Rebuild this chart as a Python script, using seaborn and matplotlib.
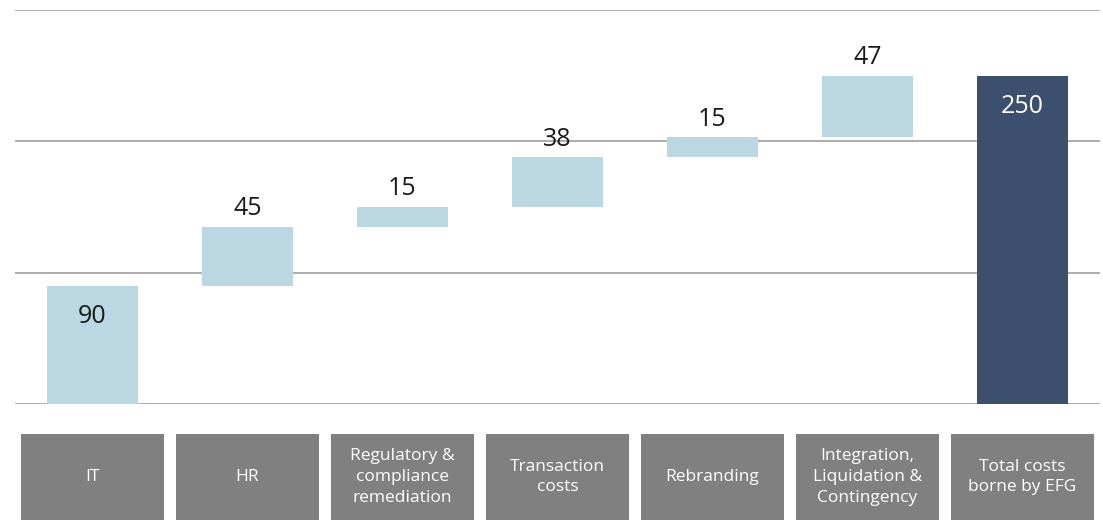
import numpy as np
import pandas as pd
import matplotlib
matplotlib.use("Agg")
import matplotlib.pyplot as plt
import seaborn as sns

CATEGORIES = ["IT", "HR", "Regulatory &\ncompliance\nremediation", "Transaction\ncosts",
              "Rebranding", "Integration,\nLiquidation &\nContingency", "Total costs\nborne by EFG"]
VALUES = [90, 45, 15, 38, 15, 47, 250]
IS_TOTAL = [False, False, False, False, False, False, True]

LIGHT = "#BBD8E2"
DARK = "#3C506E"
BOX = "#808080"
GRID = "#A6A6A6"

sns.set_theme(style="white")
plt.rcParams["font.family"] = ["Open Sans", "DejaVu Sans"]

# waterfall bases
bases = []
running = 0
for v, tot in zip(VALUES, IS_TOTAL):
    if tot:
        bases.append(0)
    else:
        bases.append(running)
        running += v
df = pd.DataFrame({"cat": CATEGORIES, "value": VALUES, "base": bases})
df["top"] = df["base"] + df["value"]

fig = plt.figure(figsize=(11.03, 5.2), dpi=100)
ax = fig.add_axes([15 / 1103, 1 - 404 / 520, 1085 / 1103, 394 / 520])
colors = [DARK if t else LIGHT for t in IS_TOTAL]
sns.barplot(data=df, x="cat", y="top", hue="cat", palette=colors, legend=False,
            width=0.59, saturation=1, linewidth=0, ax=ax, zorder=3)

# shift each bar to float on its base
for patch, b, v in zip(ax.patches, df["base"], df["value"]):
    patch.set_y(b)
    patch.set_height(v)

for i, (b, v, tot) in enumerate(zip(df["base"], df["value"], IS_TOTAL)):
    top = b + v
    if i == 0 or tot:
        ax.annotate(f"{v}", xy=(i, top), xytext=(0, -13), textcoords="offset points",
                    ha="center", va="top", fontsize=18,
                    color="white" if tot else "#1a1a1a", zorder=4)
    else:
        ax.annotate(f"{v}", xy=(i, top), xytext=(0, 4), textcoords="offset points",
                    ha="center", va="bottom", fontsize=18, color="#1a1a1a", zorder=4)

ax.set_xlim(-0.5, 6.5)
ax.set_ylim(0, 300)
ax.set_yticks([0, 100, 200, 300])
ax.yaxis.grid(True, color=GRID, linewidth=1.3)
ax.set_axisbelow(True)
ax.tick_params(left=False, bottom=False, labelleft=False, labelbottom=False)
ax.set_xlabel("")
ax.set_ylabel("")
sns.despine(ax=ax, left=True, bottom=True, top=True, right=True)

# category boxes beneath
bx = fig.add_axes([15 / 1103, 0, 1085 / 1103, 86 / 520])
xpos = np.arange(len(CATEGORIES))
bx.bar(xpos, [1] * len(CATEGORIES), width=0.925, color=BOX, linewidth=0)
for x, label in zip(xpos, CATEGORIES):
    bx.text(x, 0.5, label, ha="center", va="center", color="white",
            fontsize=12.5, linespacing=1.38)
bx.set_xlim(-0.5, 6.5)
bx.set_ylim(0, 1)
bx.axis("off")

fig.savefig("out.png", dpi=100)
